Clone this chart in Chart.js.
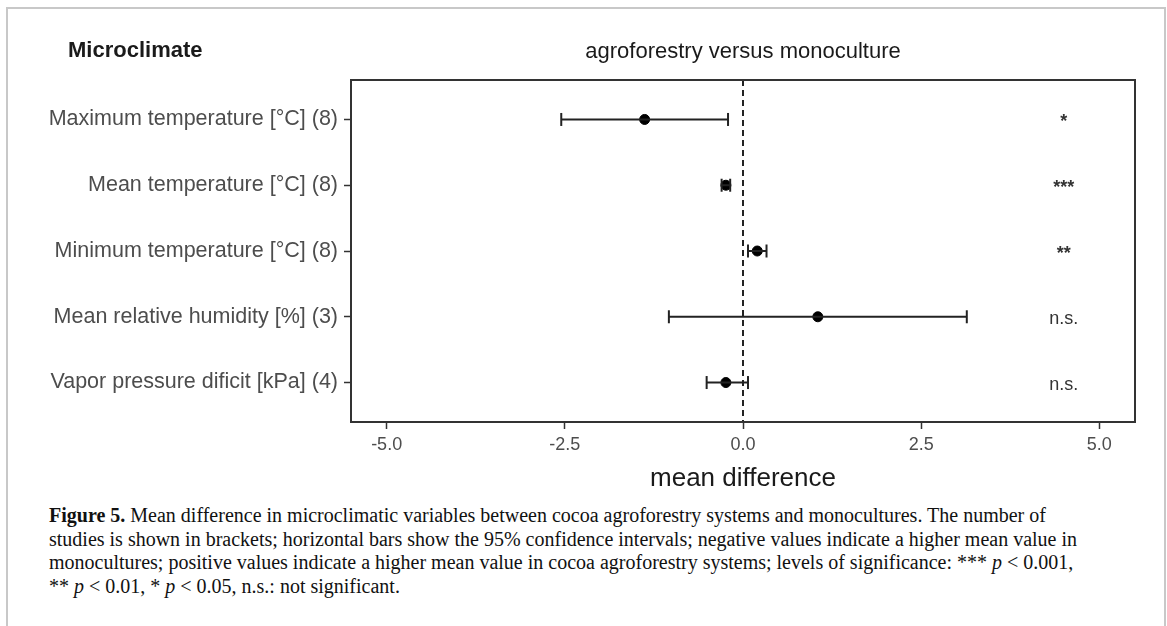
<!DOCTYPE html>
<html>
<head>
<meta charset="utf-8">
<script src="https://cdn.jsdelivr.net/npm/chart.js@4.4.0/dist/chart.umd.min.js"></script>
<style>
  body { margin: 0; background: #fff; }
  #frame { position: absolute; left: 6px; top: 7px; width: 1156px; height: 640px;
           border-left: 2px solid #c8c8c8; border-top: 2px solid #c8c8c8; border-right: 2px solid #c8c8c8; }
  #wrap { position: absolute; left: 0; top: 0; width: 1167px; height: 500px; }
  #caption { position: absolute; left: 49px; top: 504px; font-family: "Liberation Serif", serif;
             font-size: 20px; line-height: 23.5px; color: #111; white-space: nowrap; }
</style>
</head>
<body>
<div id="frame"></div>
<div id="wrap"><canvas id="myChart"></canvas></div>
<div id="caption"><b>Figure 5.</b> Mean difference in microclimatic variables between cocoa agroforestry systems and monocultures. The number of<br>studies is shown in brackets; horizontal bars show the 95% confidence intervals; negative values indicate a higher mean value in<br>monocultures; positive values indicate a higher mean value in cocoa agroforestry systems; levels of significance: *** <i>p</i> &lt; 0.001,<br>** <i>p</i> &lt; 0.01, * <i>p</i> &lt; 0.05, n.s.: not significant.</div>
<script>
var rowLabels = [
    'Maximum temperature [°C] (8)',
    'Mean temperature [°C] (8)',
    'Minimum temperature [°C] (8)',
    'Mean relative humidity [%] (3)',
    'Vapor pressure dificit [kPa] (4)'
]
var meanDiff = [-1.38, -0.24, 0.20, 1.05, -0.24]
var ciLow = [-2.55, -0.30, 0.07, -1.04, -0.51]
var ciHigh = [-0.21, -0.18, 0.33, 3.14, 0.07]
var significance = ['*', '***', '**', 'n.s.', 'n.s.']
var xTicks = [-5, -2.5, 0, 2.5, 5]
var sigX = 4.5

var datasets = []

// zero reference line
datasets.push({
    data: [{x: 0, y: 0.4}, {x: 0, y: 5.6}],
    showLine: true,
    borderColor: '#222',
    borderWidth: 2,
    borderDash: [6, 4],
    pointRadius: 0
})

// confidence intervals with end caps
for (let i = 0; i < rowLabels.length; i++) {
    datasets.push({
        data: [{x: ciLow[i], y: i + 1}, {x: ciHigh[i], y: i + 1}],
        showLine: true,
        borderColor: '#222',
        borderWidth: 2,
        pointStyle: 'line',
        rotation: 90,
        pointRadius: 6.5,
        pointBorderWidth: 2,
        pointBorderColor: '#222'
    })
}

// means
datasets.push({
    data: meanDiff.map(function(v, i){ return {x: v, y: i + 1} }),
    showLine: false,
    pointStyle: 'circle',
    pointRadius: 5,
    pointBackgroundColor: '#000',
    pointBorderColor: '#000',
    pointBorderWidth: 1
})

var textPlugin = {
    id: 'textPlugin',
    afterDraw: function(chart){
        let ctx = chart.ctx
        let area = chart.chartArea
        let xs = chart.scales.x
        let ys = chart.scales.y
        ctx.save()
        // panel frame
        ctx.strokeStyle = '#333'
        ctx.lineWidth = 2
        ctx.strokeRect(area.left, area.top, area.right - area.left, area.bottom - area.top)
        // titles
        ctx.fillStyle = '#1a1a1a'
        ctx.textBaseline = 'middle'
        ctx.textAlign = 'center'
        ctx.font = '22px "Liberation Sans", Arial, sans-serif'
        ctx.fillText('agroforestry versus monoculture', (area.left + area.right) / 2, 52)
        ctx.font = '26px "Liberation Sans", Arial, sans-serif'
        ctx.fillText('mean difference', (area.left + area.right) / 2, 479)
        ctx.textAlign = 'left'
        ctx.font = 'bold 22px "Liberation Sans", Arial, sans-serif'
        ctx.fillText('Microclimate', 68, 51)
        // significance labels
        ctx.textAlign = 'center'
        ctx.fillStyle = '#333'
        significance.forEach(function(s, i){
            let isStar = s.indexOf('*') === 0
            ctx.font = (isStar ? 'bold 18px' : '18px') + ' "Liberation Sans", Arial, sans-serif'
            ctx.fillText(s, xs.getPixelForValue(sigX), ys.getPixelForValue(i + 1) + (isStar ? 3 : 2))
        })
        ctx.restore()
    }
}

let myChart1 = document.getElementById('myChart').getContext('2d')
let chart1 = new Chart(myChart1, {
    type: 'scatter',
    data: { datasets: datasets },
    plugins: [textPlugin],
    options: {
        responsive: true,
        maintainAspectRatio: false,
        animation: false,
        layout: { padding: { left: 0, right: 32, top: 80, bottom: 8 } },
        plugins: {
            legend: { display: false },
            tooltip: { enabled: false },
            title: { display: false }
        },
        scales: {
            x: {
                type: 'linear',
                min: -5.5,
                max: 5.5,
                afterFit: function(scale){ scale.height = 70 },
                afterBuildTicks: function(scale){
                    scale.ticks = xTicks.map(function(v){ return {value: v} })
                },
                ticks: {
                    autoSkip: false,
                    maxRotation: 0,
                    padding: 5,
                    color: '#4d4d4d',
                    font: { family: '"Liberation Sans", Arial, sans-serif', size: 18 },
                    callback: function(v){ return v.toFixed(1) }
                },
                grid: { drawOnChartArea: false, drawTicks: true, tickLength: 7, tickColor: '#333', tickWidth: 1.5 },
                border: { display: false }
            },
            y: {
                type: 'linear',
                reverse: true,
                min: 0.4,
                max: 5.6,
                afterFit: function(scale){ scale.width = 351 },
                afterBuildTicks: function(scale){
                    scale.ticks = rowLabels.map(function(l, i){ return {value: i + 1} })
                },
                ticks: {
                    autoSkip: false,
                    padding: 6,
                    color: '#4d4d4d',
                    font: { family: '"Liberation Sans", Arial, sans-serif', size: 21.5 },
                    callback: function(v){ return rowLabels[v - 1] }
                },
                grid: { drawOnChartArea: false, drawTicks: true, tickLength: 7, tickColor: '#333', tickWidth: 1.5 },
                border: { display: false }
            }
        }
    }
})
</script>
</body>
</html>
